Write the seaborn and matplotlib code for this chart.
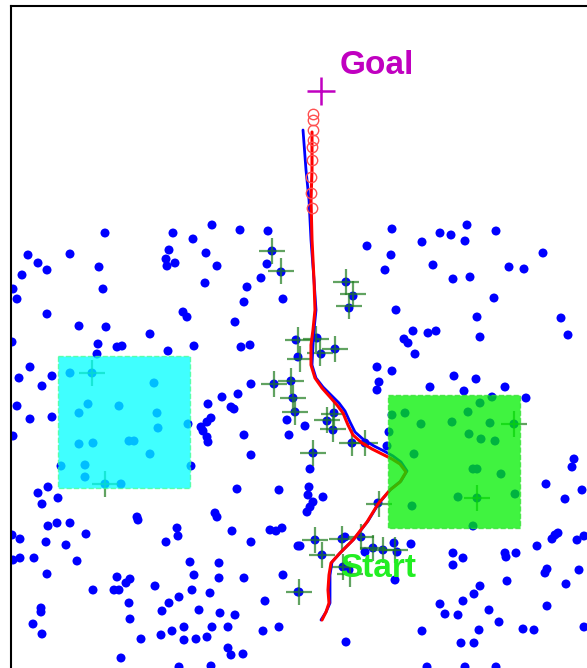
import matplotlib
matplotlib.use("Agg")
import matplotlib.pyplot as plt
import seaborn as sns
import pandas as pd
from matplotlib.patches import Rectangle

# ---------------- data (image-plane coordinates) ----------------
dots_x = [105,173,212,240,268,193,28,70,169,166,175,167,206,217,38,47,99,22,13,17,103,205,247,244,
          272,267,281,261,283,47,79,106,183,187,235,150,12,98,117,122,97,168,194,241,250,
          30,19,52,42,17,30,52,13,251,274,291,238,222,208,231,234,211,207,201,203,207,244,289,287,
          293,295,296,298,
          70,92,154,88,79,119,157,158,188,79,93,129,134,150,61,85,191,85,105,121,
          38,48,58,42,137,138,215,217,237,279,251,208,48,57,70,86,12,20,46,66,13,20,34,77,47,
          177,178,166,232,251,270,276,282,298,190,219,117,126,130,114,119,93,155,194,219,244,283,
          192,210,179,169,129,162,199,220,235,265,41,41,33,42,130,184,212,228,279,263,172,161,
          184,196,207,141,228,231,243,121,179,211,298,
          392,367,391,385,422,440,451,467,465,496,543,433,453,470,509,524,494,396,477,561,568,
          413,428,436,404,408,415,480,377,392,379,377,454,476,430,464,505,526,
          346,353,349,317,321,335,305,327,334,333,352,365,
          392,405,421,452,468,480,492,490,514,469,481,495,414,473,477,501,515,458,477,412,473,389,387,
          313,310,309,308,323,313,310,307,378,574,572,546,582,565,
          300,315,322,342,345,361,373,383,365,394,397,411,343,349,395,299,
          453,463,453,505,506,516,537,552,555,558,577,584,547,545,579,566,480,474,507,463,440,
          445,458,489,499,479,523,534,547,584,422,346,461,474,427,465,496]
dots_y = [233,233,225,230,231,239,255,254,250,259,263,266,253,266,263,270,267,275,289,299,289,283,287,302,
          251,264,272,278,299,314,326,327,312,317,322,334,342,344,347,346,354,351,346,347,345,
          367,378,376,386,406,419,417,436,384,384,381,394,397,404,407,409,418,422,427,431,437,435,435,420,
          398,412,340,357,
          373,373,383,404,413,406,413,428,424,444,443,441,441,454,466,465,466,477,484,484,
          493,487,498,504,517,520,513,517,489,490,455,442,526,523,523,534,535,539,542,545,560,558,558,561,574,
          528,536,542,531,542,530,531,528,546,562,563,577,583,579,590,590,590,586,575,578,578,575,
          590,593,597,603,603,611,610,613,615,601,608,612,624,634,619,627,627,627,627,631,631,635,
          640,639,637,639,648,655,654,658,667,666,592,
          229,246,255,270,242,233,235,225,241,231,253,265,279,277,267,269,298,310,317,318,335,
          331,333,331,339,343,354,337,367,371,382,390,376,379,387,391,387,398,
          282,296,308,338,354,349,426,421,413,430,443,443,
          415,413,424,422,412,403,397,423,424,434,439,441,454,469,469,474,494,497,498,506,526,432,446,
          453,469,487,495,497,502,507,512,503,459,467,484,490,499,
          546,540,555,539,537,537,548,550,552,543,552,544,567,570,580,592,
          553,558,565,553,557,553,546,539,535,533,540,536,569,573,570,584,586,594,581,601,604,
          614,615,610,622,630,629,630,606,627,631,642,643,643,667,667,667]

cross_x = [272,281,346,353,349,298,316,335,320,300,274,291,293,295,327,334,333,352,365,313,
           379,315,322,342,361,373,383,395,343,350,299,92,105,514,477]
cross_y = [251,271,282,294,306,340,339,349,353,359,384,381,398,412,420,414,429,443,443,453,
           504,540,555,539,537,548,550,550,567,574,592,373,484,424,498]

red_x = [312,312,311,312,314,315,313,311,311,315,322,330,337,343,348,353,362,372,382,392,
         400,406,400,390,378,367,353,340,331,329,328,329,326,322]
red_y = [132,170,200,240,280,310,330,345,365,378,388,397,405,413,425,435,443,449,454,459,
         464,472,482,490,504,522,540,553,563,575,590,603,612,620]

blue_x = [303,306,309,311,314,316,314,313,312,316,323,331,339,345,350,355,364,374,384,393,
          401,407,401,391,379,368,354,341,332,330,330,330,326,321]
blue_y = [130,170,200,240,280,310,330,345,365,378,387,395,403,411,422,432,440,446,451,456,
          462,471,481,489,503,521,539,552,562,575,590,603,612,620]

ring_x = [313,313,313,313,312,312,311,311,312]
ring_y = [114,120,130,140,147,160,177,193,208]

goal_xy = (321, 91)
start_label_xy = (340, 577)
goal_label_xy = (340, 74)

# obstacles: (x0, y0, x1, y1)
cyan_box = (58, 356, 190, 488)
green_box = (388, 395, 520, 528)

# ---------------- figure ----------------
sns.set_style("white")
W, H, DPI = 587, 668, 100
fig = plt.figure(figsize=(W / DPI, H / DPI), dpi=DPI)
x0, x1, y0, y1 = 11, 600, 6, 690
ax = fig.add_axes([x0 / W, 1 - y1 / H, (x1 - x0) / W, (y1 - y0) / H])
ax.set_xlim(x0, x1)
ax.set_ylim(y1, y0)
ax.set_xticks([])
ax.set_yticks([])
for s in ax.spines.values():
    s.set_linewidth(1.5)
    s.set_color("black")

sns.scatterplot(x=dots_x, y=dots_y, ax=ax, s=42, color="#0000ff",
                edgecolor="none", linewidth=0, zorder=2, legend=False)
sns.scatterplot(x=cross_x, y=cross_y, ax=ax, marker="+", s=360, color="#1e7d1e",
                linewidth=1.6, alpha=0.7, zorder=3, legend=False)

ax.plot(blue_x, blue_y, color="#0000ff", lw=2.0, zorder=4)
ax.plot(red_x, red_y, color="#ff0000", lw=2.2, zorder=5)
ax.plot(ring_x, ring_y, linestyle="none", marker="o", ms=7.5, mfc="none",
        mec="#ff5050", mew=1.0, zorder=5)

ax.add_patch(Rectangle((cyan_box[0], cyan_box[1]), cyan_box[2] - cyan_box[0],
                       cyan_box[3] - cyan_box[1], facecolor="#00ffff", alpha=0.75,
                       edgecolor="#40ff90", linestyle="--", lw=1.0, zorder=6))
ax.add_patch(Rectangle((green_box[0], green_box[1]), green_box[2] - green_box[0],
                       green_box[3] - green_box[1], facecolor="#00f000", alpha=0.75,
                       edgecolor="#30e030", linestyle="--", lw=1.0, zorder=6))

ax.plot([goal_xy[0]], [goal_xy[1]], marker="+", ms=20, mew=1.8, color="#c000c0", zorder=7)

ax.text(goal_label_xy[0], goal_label_xy[1], "Goal", color="#c000c0",
        fontsize=24, fontweight="bold", family="Liberation Sans",
        ha="left", va="baseline", zorder=8)
ax.text(start_label_xy[0], start_label_xy[1], "Start", color="#22ee22",
        fontsize=24, fontweight="bold", family="Liberation Sans",
        ha="left", va="baseline", zorder=8)

fig.savefig("out.png", dpi=DPI)
